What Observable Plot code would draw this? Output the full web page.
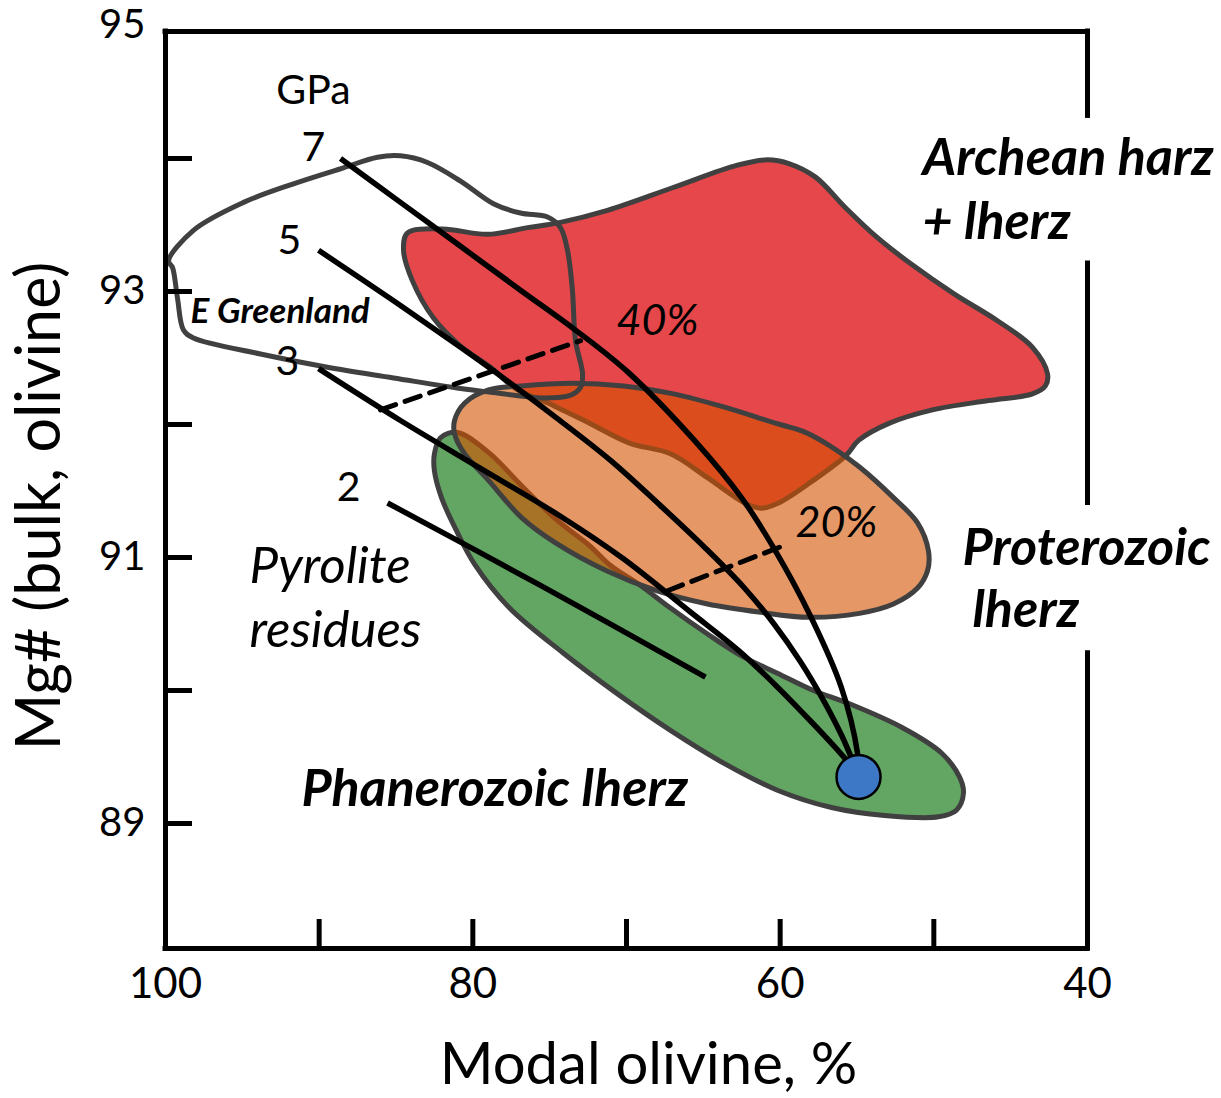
<!DOCTYPE html>
<html><head><meta charset="utf-8">
<script src="https://cdn.jsdelivr.net/npm/d3@7"></script>
<script src="https://cdn.jsdelivr.net/npm/@observablehq/plot@0.6"></script>
<style>body{margin:0;background:#fff} svg{display:block}</style>
</head><body><div id="chart"></div>
<script>
// ---- axes ----
const xTicks = [90, 80, 70, 60, 50];
const xTickLabels = [100, 80, 60, 40];
const yTicks = [89, 90, 91, 92, 93, 94];
const yTickLabels = [89, 91, 93, 95];
const frameX = [100, 40];
const frameY = [88.06, 94.955];
// right border is interrupted by the label boxes
const rightBorder = [[88.06, 90.28], [91.41, 93.21], [94.32, 94.955]];

// ---- fields: [modal olivine %, Mg#] ----
const phanerozoic = [[82.10,91.90],[81.00,91.94],[78.98,91.79],[76.83,91.54],[74.62,91.29],[72.41,91.09],[71.04,90.94],[69.09,90.79],[67.14,90.62],[64.80,90.43],[62.52,90.26],[60.18,90.13],[57.83,90.00],[55.49,89.90],[52.04,89.72],[49.50,89.53],[48.33,89.35],[48.07,89.23],[48.53,89.10],[49.70,89.05],[53.21,89.06],[56.66,89.12],[60.18,89.25],[63.62,89.45],[67.14,89.70],[70.65,89.98],[74.10,90.28],[77.61,90.62],[79.89,90.95],[81.06,91.20],[82.04,91.45],[82.50,91.65],[82.50,91.78]];
const archean = [[84.25,93.44],[81.97,93.47],[79.05,93.43],[76.44,93.48],[74.30,93.52],[71.24,93.61],[67.01,93.78],[62.78,93.95],[60.83,93.99],[59.39,93.96],[57.70,93.86],[55.75,93.63],[53.73,93.41],[51.52,93.21],[48.66,92.98],[45.86,92.78],[43.58,92.58],[42.60,92.38],[42.74,92.29],[43.58,92.23],[46.44,92.18],[50.09,92.11],[52.89,92.01],[54.90,91.88],[55.69,91.77],[58.09,91.56],[60.11,91.41],[61.22,91.37],[62.32,91.41],[64.73,91.60],[67.14,91.78],[69.81,91.86],[72.41,92.01],[75.08,92.16],[77.22,92.27],[78.85,92.43],[80.80,92.59],[82.56,92.80],[83.93,93.08],[84.51,93.31]];
const proterozoic = [[81.19,92.03],[80.54,92.16],[78.98,92.26],[76.83,92.29],[73.52,92.31],[70.20,92.29],[66.94,92.23],[63.62,92.13],[60.31,92.01],[58.55,91.95],[57.05,91.86],[54.84,91.68],[52.63,91.45],[51.06,91.26],[50.35,91.05],[50.41,90.90],[51.06,90.77],[52.63,90.65],[54.84,90.58],[58.09,90.55],[61.41,90.59],[64.73,90.65],[68.05,90.75],[71.30,90.90],[74.62,91.11],[76.83,91.30],[78.98,91.58],[80.54,91.78],[81.19,91.93]];
const eGreenland = [[99.80,93.23],[98.18,93.46],[94.92,93.67],[91.67,93.81],[88.42,93.93],[86.20,94.01],[84.71,94.02],[82.95,93.97],[80.80,93.83],[78.66,93.66],[76.90,93.59],[75.14,93.56],[74.30,93.48],[73.84,93.31],[73.52,93.01],[73.32,92.63],[72.86,92.38],[72.99,92.28],[73.64,92.22],[75.40,92.20],[78.66,92.24],[80.80,92.27],[85.16,92.35],[89.46,92.43],[93.82,92.53],[98.18,92.65],[98.83,92.71],[99.22,92.95],[99.54,93.18]];

// ---- pyrolite residue paths by pressure (GPa) ----
const path7 = [[88.61,94.00],[84.71,93.67],[80.80,93.34],[76.90,93.01],[73.32,92.71],[69.87,92.39],[65.58,91.88],[62.52,91.45],[60.31,91.05],[58.03,90.56],[56.01,90.02],[54.97,89.53],[54.90,89.38]];
const path5 = [[90.04,93.31],[85.16,92.93],[80.80,92.58],[77.55,92.31],[74.56,92.05],[71.04,91.73],[67.79,91.39],[64.86,91.07],[62.40,90.78],[60.40,90.50],[58.70,90.22],[57.20,89.93],[55.95,89.65],[54.97,89.38]];
const path3 = [[90.04,92.42],[84.71,92.03],[79.50,91.67],[74.30,91.31],[70.20,90.99],[65.84,90.59],[62.70,90.30],[60.30,90.04],[58.10,89.78],[56.40,89.57],[54.97,89.38]];
const path2 = [[85.55,91.41],[75.60,90.79],[64.86,90.10]];
const melt40 = [[86.01,92.11],[72.99,92.63]];
const melt20 = [[67.33,90.75],[59.98,91.08]];
const pyrolite = [[54.90,89.35]];

// ---- labels ----
const pressureLabels = [["GPa",90.37,94.51],["7",90.37,94.08],["5",91.93,93.38],["3",92.06,92.47],["2",88.09,91.52]];
const meltLabels = [["40%",67.98,92.78],["20%",56.34,91.26]];
const pyroliteLabels = [["Pyrolite",94.53,90.93],["residues",94.53,90.45]];
const fieldLabels = [["Archean harz",50.74,94.00],["+ lherz",50.74,93.52],["Proterozoic",48.14,91.07],["lherz",47.49,90.60],["Phanerozoic lherz",91.15,89.26]];
const greenlandLabel = [["E Greenland",98.37,92.85]];

const FONT = "Lato, 'Open Sans', sans-serif";
const OUTLINE = "#404040";
const px = d => d[0], py = d => d[1];

const field = (data, fill, extra = {}) => Plot.line(data, {x: px, y: py, curve: "catmull-rom-closed", fill, stroke: OUTLINE, strokeWidth: 5, ...extra});
const residue = (data) => Plot.line(data, {x: px, y: py, curve: "catmull-rom", stroke: "black", strokeWidth: 5.5, strokeLinecap: "butt"});

const chart = Plot.plot({
  width: 1221, height: 1098,
  marginLeft: 165, marginRight: 134, marginTop: 25, marginBottom: 150,
  style: {background: "white", fontFamily: FONT, overflow: "visible"},
  x: {domain: [100, 40], axis: null},
  y: {domain: [88.06, 95], axis: null},
  marks: [
    field(phanerozoic, "#63A663"),
    field(archean, "#E5474A"),
    field(proterozoic, "rgb(212,82,0)", {fillOpacity: 0.6}),
    field(eGreenland, "none"),
    residue(path7), residue(path5), residue(path3), residue(path2),
    Plot.line(melt40, {x: px, y: py, stroke: "black", strokeWidth: 5, strokeDasharray: "16,10"}),
    Plot.line(melt20, {x: px, y: py, stroke: "black", strokeWidth: 5, strokeDasharray: "16,10"}),
    Plot.dot(pyrolite, {x: px, y: py, r: 22, fill: "#3C78C5", stroke: "black", strokeWidth: 2.5}),
    // frame
    Plot.ruleX([frameX[0]], {y1: frameY[0], y2: frameY[1], stroke: "black", strokeWidth: 5, strokeLinecap: "square"}),
    Plot.ruleX(rightBorder, {x: () => frameX[1], y1: d => d[0], y2: d => d[1], stroke: "black", strokeWidth: 5, strokeLinecap: "square"}),
    Plot.ruleY(frameY, {x1: frameX[0], x2: frameX[1], stroke: "black", strokeWidth: 5, strokeLinecap: "square"}),
    Plot.tickY(yTicks, {y: d => d, insetRight: 895, stroke: "black", strokeWidth: 5}),
    Plot.tickX(xTicks, {x: d => d, insetTop: 894, stroke: "black", strokeWidth: 5}),
    Plot.text(yTickLabels, {y: d => d, frameAnchor: "left", dx: -20, textAnchor: "end", lineAnchor: "middle", text: d => String(d), fontSize: 40, fill: "black"}),
    Plot.text(xTickLabels, {x: d => d, frameAnchor: "bottom", lineAnchor: "middle", dy: 36, text: d => String(d), fontSize: 42, fill: "black"}),
    Plot.text(["Modal olivine, %"], {frameAnchor: "bottom", lineAnchor: "middle", dx: 22, dy: 117, fontSize: 58, fill: "black"}),
    Plot.text(["Mg# (bulk, olivine)"], {frameAnchor: "left", textAnchor: "middle", lineAnchor: "middle", dx: -125, dy: 19, rotate: -90, fontSize: 61, fill: "black"}),
    // labels
    Plot.text(pressureLabels, {x: d => d[1], y: d => d[2], text: d => d[0], fontSize: 41, fill: "black"}),
    Plot.text(meltLabels, {x: d => d[1], y: d => d[2], text: d => d[0], fontSize: 43, fontStyle: "italic", fill: "black"}),
    Plot.text(pyroliteLabels, {x: d => d[1], y: d => d[2], text: d => d[0], textAnchor: "start", fontSize: 51, fontStyle: "italic", fill: "black"}),
    Plot.text(fieldLabels, {x: d => d[1], y: d => d[2], text: d => d[0], textAnchor: "start", fontSize: 52, fontStyle: "italic", fontWeight: "bold", fill: "black"}),
    Plot.text(greenlandLabel, {x: d => d[1], y: d => d[2], text: d => d[0], textAnchor: "start", fontSize: 35, fontStyle: "italic", fontWeight: "bold", fill: "black"})
  ]
});
document.getElementById("chart").appendChild(chart);
</script>
</body></html>
